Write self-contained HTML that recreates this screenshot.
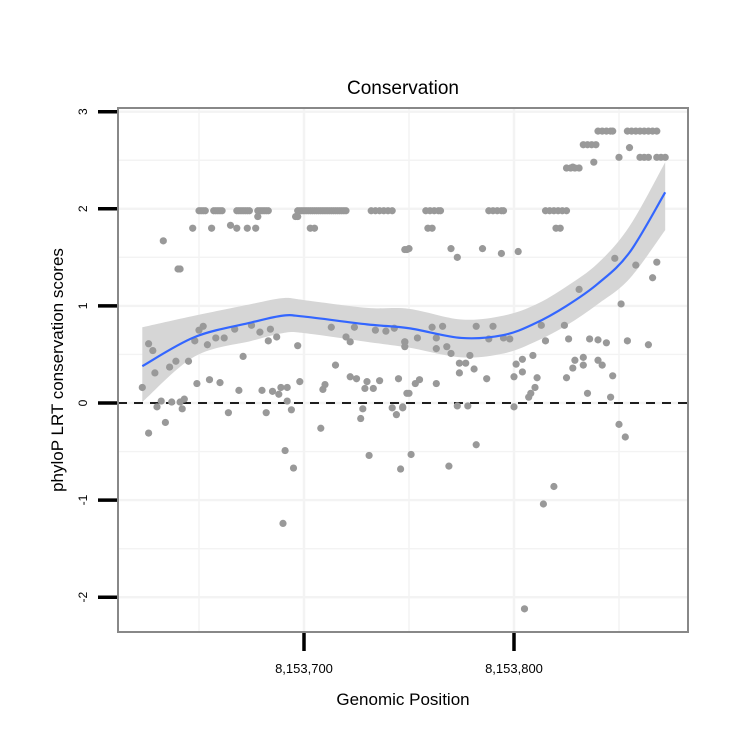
<!DOCTYPE html>
<html><head><meta charset="utf-8"><style>
html,body{margin:0;padding:0;background:#fff;}
svg text{font-family:"Liberation Sans",Arial,sans-serif;}
</style></head><body>
<svg id="chart" width="750" height="750" viewBox="0 0 750 750" xmlns="http://www.w3.org/2000/svg">
<rect width="750" height="750" fill="#fff"/>
<g id="grid"></g>
<path id="ci" fill="#d6d6d6" stroke="none"/>
<line x1="118" y1="403" x2="688" y2="403" stroke="#000" stroke-width="1.8" stroke-dasharray="9,7"/>
<g id="points"></g>
<path id="fit" fill="none" stroke="#3366ff" stroke-width="2.2"/>
<rect x="118" y="108" width="570" height="524" fill="none" stroke="#888" stroke-width="2"/>
<g id="axes"></g>
<text x="403" y="94" font-size="19" text-anchor="middle">Conservation</text>
<text x="403" y="705" font-size="17" text-anchor="middle">Genomic Position</text>
<text x="0" y="0" font-size="17" text-anchor="middle" transform="translate(63,370) rotate(-90)">phyloP LRT conservation scores</text>
</svg>
<script>
// band of scores at ~2
const bandPositions = [
8153650,8153651,8153652,8153653,8153657,8153658,8153659,8153660,8153661,8153668,
8153669,8153670,8153671,8153672,8153673,8153674,8153678,8153679,8153680,8153681,
8153682,8153683,8153697,8153698,8153699,8153700,8153701,8153702,8153703,8153704,
8153705,8153706,8153707,8153708,8153709,8153710,8153711,8153712,8153713,8153714,
8153715,8153716,8153717,8153718,8153719,8153720,8153732,8153734,8153736,8153738,
8153740,8153742,8153758,8153760,8153762,8153764,8153765,8153788,8153790,8153792,
8153794,8153795,8153815,8153817,8153819,8153821,8153823,8153825];
const bandScores = [
1.98,1.98,1.98,1.98,1.98,1.98,1.98,1.98,1.98,1.98,
1.98,1.98,1.98,1.98,1.98,1.98,1.98,1.98,1.98,1.98,
1.98,1.98,1.98,1.98,1.98,1.98,1.98,1.98,1.98,1.98,
1.98,1.98,1.98,1.98,1.98,1.98,1.98,1.98,1.98,1.98,
1.98,1.98,1.98,1.98,1.98,1.98,1.98,1.98,1.98,1.98,
1.98,1.98,1.98,1.98,1.98,1.98,1.98,1.98,1.98,1.98,
1.98,1.98,1.98,1.98,1.98,1.98,1.98,1.98];
// other high scores
const highPositions = [
8153647,8153656,8153665,8153668,8153673,8153677,8153703,8153705,8153759,8153761,
8153820,8153822,8153678,8153696,8153697,8153633,8153640,8153641,8153749,8153750,
8153770,8153773,8153785,8153794,8153802,8153748];
const highScores = [
1.80,1.80,1.83,1.80,1.80,1.80,1.80,1.80,1.80,1.80,
1.80,1.80,1.92,1.92,1.92,1.67,1.38,1.38,1.58,1.59,
1.59,1.50,1.59,1.54,1.56,1.58];
// right-hand very high scores
const topPositions = [
8153825,8153827,8153829,8153831,8153828,8153833,8153835,8153837,8153839,8153838,
8153840,8153842,8153844,8153846,8153847,8153854,8153856,8153858,8153860,8153862,
8153864,8153866,8153868,8153855,8153850,8153860,8153862,8153864,8153868,8153870,
8153872];
const topScores = [
2.42,2.42,2.42,2.42,2.43,2.66,2.66,2.66,2.66,2.48,
2.80,2.80,2.80,2.80,2.80,2.80,2.80,2.80,2.80,2.80,
2.80,2.80,2.80,2.63,2.53,2.53,2.53,2.53,2.53,2.53,
2.53];
// right-hand scattered scores
const rightPositions = [
8153848,8153858,8153868,8153866,8153851,8153831,8153864,8153854,8153824,8153813,
8153836,8153840,8153844,8153826,8153815,8153809,8153804,8153801,8153804,8153800,
8153811,8153810,8153808,8153807,8153800,8153825,8153829,8153833,8153833,8153828,
8153840,8153842,8153847,8153835,8153846,8153850,8153853,8153782,8153790,8153798,
8153788,8153795,8153766,8153761,8153763,8153754,8153748,8153763,8153768,8153770,
8153779,8153774,8153777,8153781,8153774,8153787,8153755,8153753,8153763,8153750,
8153773,8153778,8153747,8153751,8153769,8153782,8153819,8153814,8153805];
const rightScores = [
1.49,1.42,1.45,1.29,1.02,1.17,0.60,0.64,0.80,0.80,
0.66,0.65,0.62,0.66,0.64,0.49,0.45,0.40,0.32,0.27,
0.26,0.16,0.10,0.06,-0.04,0.26,0.44,0.47,0.39,0.36,
0.44,0.39,0.28,0.10,0.06,-0.22,-0.35,0.79,0.79,0.66,
0.66,0.67,0.79,0.78,0.67,0.67,0.63,0.56,0.58,0.51,
0.49,0.41,0.41,0.35,0.31,0.25,0.24,0.20,0.20,0.10,
-0.03,-0.03,-0.04,-0.53,-0.65,-0.43,-0.86,-1.04,-2.12];
// left-hand scattered scores
const leftPositions = [
8153626,8153628,8153623,8153629,8153636,8153639,8153645,8153648,8153652,8153650,
8153654,8153658,8153662,8153667,8153671,8153675,8153679,8153683,8153684,8153687,
8153697,8153713,8153720,8153722,8153724,8153734,8153739,8153743,8153748,8153748,
8153715,8153649,8153655,8153660,8153669,8153680,8153685,8153689,8153692,8153698,
8153688,8153710,8153709,8153722,8153725,8153730,8153729,8153733,8153736,8153745,
8153749,8153632,8153630,8153637,8153641,8153643,8153642,8153692,8153694,8153728,
8153742,8153747,8153744,8153664,8153682,8153634,8153626,8153708,8153727,8153691,
8153695,8153731,8153746,8153690];
const leftScores = [
0.61,0.54,0.16,0.31,0.37,0.43,0.43,0.64,0.79,0.75,
0.60,0.67,0.67,0.76,0.48,0.80,0.73,0.64,0.76,0.68,
0.59,0.78,0.68,0.63,0.78,0.75,0.74,0.77,0.63,0.58,
0.39,0.20,0.24,0.21,0.13,0.13,0.12,0.16,0.16,0.22,
0.09,0.19,0.14,0.27,0.25,0.22,0.15,0.15,0.23,0.25,
0.10,0.02,-0.04,0.01,0.01,0.04,-0.06,0.02,-0.07,-0.06,
-0.05,-0.05,-0.12,-0.10,-0.10,-0.20,-0.31,-0.26,-0.16,-0.49,
-0.67,-0.54,-0.68,-1.24];

// smooth fit
const fitPositions = [8153623,8153648,8153675,8153690,8153700,8153730,8153750,8153775,8153795,8153810,8153825,8153840,8153855,8153872];
const fitValues = [0.38,0.68,0.83,0.90,0.89,0.81,0.77,0.67,0.70,0.82,1.00,1.23,1.55,2.17];
const fitLower = [0.01,0.48,0.64,0.72,0.72,0.63,0.57,0.47,0.51,0.63,0.80,1.02,1.28,1.78];
const fitUpper = [0.78,0.90,1.02,1.08,1.06,0.98,0.97,0.86,0.90,1.01,1.20,1.44,1.82,2.48];
const yTicks = [-2,-1,0,1,2,3];
const xTicks = [8153700,8153800];
const xTickLabels = ["8,153,700","8,153,800"];

const positions = bandPositions.concat(highPositions, topPositions, rightPositions, leftPositions);
const scores = bandScores.concat(highScores, topScores, rightScores, leftScores);

const NS = "http://www.w3.org/2000/svg";
function xs(v){ return 304 + (v - 8153700) * 2.1; }
function ys(v){ return 403 - v * 97.1; }
function mk(tag, attrs, parent){ const e=document.createElementNS(NS,tag); for(const k in attrs) e.setAttribute(k,attrs[k]); parent.appendChild(e); return e; }

const grid = document.getElementById('grid');
for (let v=-2; v<=3.01; v+=0.5){
  const l = mk('line',{x1:118,x2:688,y1:ys(v),y2:ys(v),stroke:'#f3f3f3','stroke-width':Number.isInteger(v)?2.4:1.4},grid);
  
  
}
for (let v=8153650; v<=8153850; v+=50){
  const l = mk('line',{x1:xs(v),x2:xs(v),y1:108,y2:632,stroke:'#f3f3f3','stroke-width':(v%100===0)?2.4:1.4},grid);
  
  
}

function smoothPath(px, py){
  let d = "M"+px[0]+","+py[0];
  for (let i=0;i<px.length-1;i++){
    const x0=px[Math.max(i-1,0)], y0=py[Math.max(i-1,0)];
    const x1=px[i], y1=py[i], x2=px[i+1], y2=py[i+1];
    const x3=px[Math.min(i+2,px.length-1)], y3=py[Math.min(i+2,px.length-1)];
    d += " C"+(x1+(x2-x0)/6)+","+(y1+(y2-y0)/6)+" "+(x2-(x3-x1)/6)+","+(y2-(y3-y1)/6)+" "+x2+","+y2;
  }
  return d;
}
const fx = fitPositions.map(xs);
const upPath = smoothPath(fx, fitUpper.map(ys));
const rfx = fx.slice().reverse();
const loPath = smoothPath(rfx, fitLower.map(ys).reverse()).replace(/^M/,"L");
document.getElementById('ci').setAttribute('d', upPath + " " + loPath + " Z");
document.getElementById('fit').setAttribute('d', smoothPath(fx, fitValues.map(ys)));

const pts = document.getElementById('points');
const n = Math.min(positions.length, scores.length);
for (let i=0;i<n;i++){
  const c = mk('circle',{cx:xs(positions[i]),cy:ys(scores[i]),r:3.6,fill:'#999999'},pts);
  
  
}

const axes = document.getElementById('axes');
yTicks.forEach(v=>{
  const t = mk('line',{x1:98,x2:117,y1:ys(v),y2:ys(v),stroke:'#000','stroke-width':3.5},axes);
  
  
  const lb = mk('text',{x:0,y:0,'font-size':12,'text-anchor':'middle',transform:'translate(87,'+ys(v)+') rotate(-90)'},axes);
  lb.textContent = String(v);
  
  
});
xTicks.forEach((v,i)=>{
  const t = mk('line',{x1:xs(v),x2:xs(v),y1:633,y2:651,stroke:'#000','stroke-width':3.5},axes);
  
  
  const lb = mk('text',{x:xs(v),y:673,'font-size':13,'text-anchor':'middle'},axes);
  lb.textContent = xTickLabels[i];
  
  
});
</script>
</body></html>
